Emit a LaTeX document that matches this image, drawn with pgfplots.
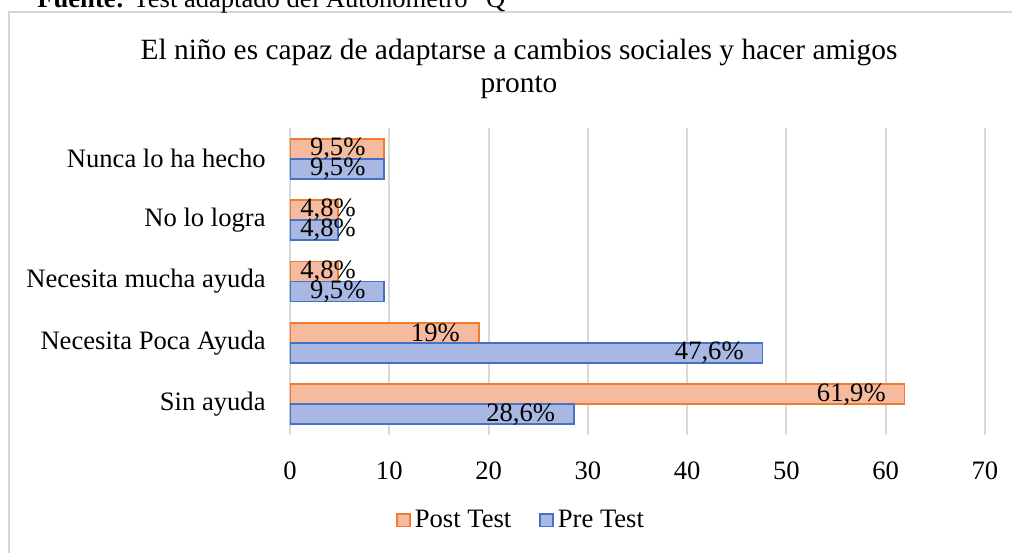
\documentclass[border=0pt]{standalone}
\usepackage{fontspec}
\setmainfont{Liberation Serif}
\usepackage{pgfplots}
\pgfplotsset{compat=1.18}

\definecolor{postfill}{HTML}{F6BA9E}
\definecolor{postdraw}{HTML}{ED7D31}
\definecolor{prefill}{HTML}{A9B8E3}
\definecolor{predraw}{HTML}{4472C4}
\definecolor{gridgray}{HTML}{D9D9D9}
\definecolor{framegray}{HTML}{D6D6D6}

\newcommand{\lbl}{\fontsize{13.3}{16}\selectfont}

\begin{document}
\begin{tikzpicture}
% outer frame of the chart box (partly cut by the page)
\draw[framegray, line width=1.2pt] (370pt,211.5pt) -- (-140.5pt,211.5pt) -- (-140.5pt,-70pt);
\node[anchor=base west, inner sep=0pt, font=\lbl] at (-126.5pt,213.5pt)
  {\textbf{Fuente:} Test adaptado del Autonómetro “Q”};
\node[anchor=base, inner sep=0pt, font=\fontsize{14.7}{17}\selectfont] at (114.5pt,187.5pt)
  {El niño es capaz de adaptarse a cambios sociales y hacer amigos};
\node[anchor=base, inner sep=0pt, font=\fontsize{14.7}{17}\selectfont] at (114.5pt,171pt)
  {pronto};

\begin{axis}[
  at={(0pt,0pt)}, anchor=south west,
  scale only axis, width=347.5pt, height=153.5pt,
  xmin=0, xmax=70, ymin=-0.5, ymax=4.5,
  xtick={0,10,...,70},
  ytick={0,1,2,3,4},
  yticklabels={Sin ayuda, Necesita Poca Ayuda, Necesita mucha ayuda, No lo logra, Nunca lo ha hecho},
  axis line style={draw=none},
  tick style={draw=none},
  xmajorgrids, ymajorgrids=false,
  grid style={gridgray, line width=1pt},
  ticklabel style={font=\lbl},
  /pgf/number format/assume math mode=true,
  xticklabel style={anchor=base, yshift=-22pt},
  yticklabel style={anchor=east, inner sep=0pt, xshift=-12pt},
  legend style={at={(0.334,-0.277)}, anchor=center, draw=none, fill=none,
    legend columns=2, font=\lbl,
    /tikz/every even column/.append style={column sep=12pt}},
  legend image code/.code={\draw[#1, line width=0.9pt] (0pt,-3.2pt) rectangle (6.4pt,3.2pt);},
  point meta=x,
  nodes near coords={\pgfmathprintnumber[use comma,fixed,precision=1]{\pgfplotspointmeta}\%},
  visualization depends on={x \as \xval},
  nodes near coords style={font=\lbl, anchor=east, inner sep=0pt, text=black,
    xshift={(\xval<5)*18.5-9}},
]
\addplot[xbar, bar width=10pt, bar shift=5pt, draw=postdraw, fill=postfill, line width=0.9pt,
  every node near coord/.append style={yshift=5pt}]
  coordinates {(61.9,0) (19,1) (4.8,2) (4.8,3) (9.5,4)};
\addlegendentry{Post Test}
\addplot[xbar, bar width=10pt, bar shift=-5pt, draw=predraw, fill=prefill, line width=0.9pt,
  every node near coord/.append style={yshift=-5pt}]
  coordinates {(28.6,0) (47.6,1) (9.5,2) (4.8,3) (9.5,4)};
\addlegendentry{Pre Test}
\end{axis}
\pgfresetboundingbox
\useasboundingbox (-145pt,-58.5pt) rectangle (361pt,217.5pt);
\end{tikzpicture}
\end{document}
